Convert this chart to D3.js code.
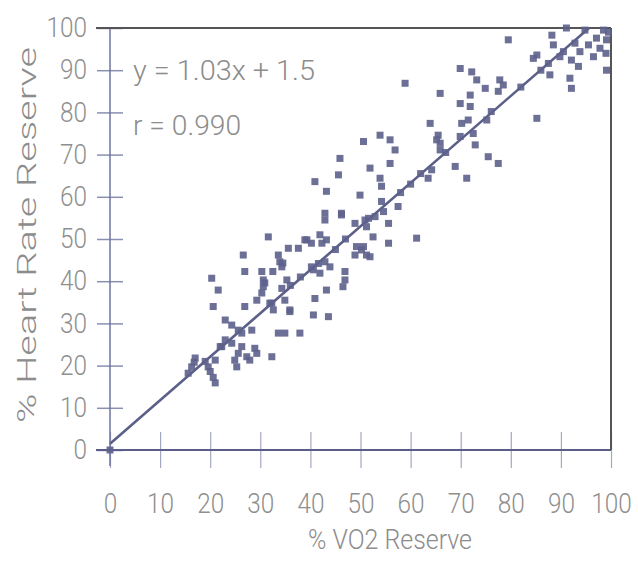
<!DOCTYPE html>
<html lang="en">
<head>
    <meta charset="UTF-8">
    <title>% Heart Rate Reserve vs % VO2 Reserve</title>
    <script src="https://d3js.org/d3.v7.min.js"></script>
    <style>
        body {
            margin: 0;
            background: #ffffff;
        }
        .tick text {
            font-family: Roboto, "Liberation Sans", Arial, sans-serif;
            font-weight: 300;
            font-size: 27px;
            fill: #8f8f8f;
        }
        .label {
            font-family: Roboto, "Liberation Sans", Arial, sans-serif;
            font-weight: 300;
            fill: #8c8c8c;
        }
    </style>
</head>
<body>
<div id="chart"></div>
<script>
    // data
    const vo2 = [0, 15.6, 16.3, 17, 16.8, 19.6, 20, 21, 21, 20.6, 20.3, 21.6, 20.6,
        22.3, 23, 24.3, 23, 24.3, 25.6, 26.3, 28.3, 26.3, 25.6, 24.9, 25.3, 27.3, 27.9, 28.9, 29.3, 32.3,
        26.9, 30.3, 32.5, 34.5, 26.9, 30.3, 30.9, 29.3, 32.3, 34.9, 32.6, 35.9, 33.6, 34.9, 37.9,
        26.6, 31.6, 33.6, 33.9, 34.3, 30.6, 30.6, 35.3, 34.3, 35.6, 37.6, 39.3, 40.2, 41.9, 42.3, 43.2, 38.9,
        40.2, 41.6, 42.9, 43.9, 41.9, 40.6, 46.9, 46.9, 46.5, 43.2, 40.9, 31.9, 35.9, 40.6, 43.6,
        42.9, 42.9, 46.2, 48.9, 50.9, 51.2, 49.2, 50.2, 51.2, 48.9,
        53.9, 50.6, 55.9, 56.9, 55.9, 45.9, 51.9, 45.6, 40.9, 43.2, 53.9, 54.2, 49.9, 54.2, 54.6, 55.6,
        46.2, 51.6, 52.9, 52.5, 55.6, 61.2, 50.6, 51.9, 57.5,
        63.9, 65.2, 64.2, 63.5,
        69.9, 72.2, 73.2, 74.9, 77.8, 78.5, 77.5, 58.9, 65.9, 69.9, 71.9, 71.9, 65.5, 65.9, 65.9,
        70.2, 69.9, 71.5, 72.5, 72.9, 75.2, 76.1, 75.5, 77.5, 68.9, 71.2,
        79.5, 91.1, 88.2, 88.5, 85.2, 84.5, 87.5, 90.5, 92.1, 92.8, 93.8, 95.5, 97.1, 97.8, 98.5, 99.1,
        96.5, 93.5, 99.1, 91.8, 92.1, 85.2, 87.8, 94.8, 89.8, 99.5, 99,
        45, 47, 58, 60, 62, 67, 82, 86, 38, 36, 19, 22];
    const hrr = [0, 18.2, 19.7, 21.8, 20.8, 19.7, 18.6, 21.3, 15.9, 17.2, 40.7, 37.9, 34,
        24.5, 26.1, 25.3, 30.8, 29.6, 28.4, 27.7, 28.4, 24.5, 22.9, 21.3, 19.7, 22.1, 21.3, 24.1, 22.9, 22.1,
        42.3, 42.3, 42.3, 44.3, 34, 37.2, 39.6, 35.5, 34.8, 35.5, 33.2, 32.8, 27.7, 27.7, 27.7,
        46.2, 50.5, 46.2, 44.6, 43.4, 40.3, 38.7, 40.3, 38.3, 47.8, 47.8, 49.8, 49, 51, 49, 49.8, 49.8,
        43.4, 44.2, 44.6, 43.4, 41.9, 42.7, 42.3, 40.3, 38.7, 37.9, 35.9, 34.8, 33.2, 32, 31.6,
        56.1, 54.5, 56.1, 53.7, 54.5, 52.9, 48.2, 47.4, 46.2, 46.2,
        74.6, 73.1, 73.5, 71.1, 67.9, 69.1, 66.8, 65.2, 63.6, 61.3, 64.4, 62.5, 60.4, 58.9, 56.5, 53.7,
        55.7, 54.9, 55.3, 50.5, 49, 50.2, 48.2, 45.8, 57.7,
        77.4, 73.5, 66.4, 64.4,
        90.4, 89.6, 87.7, 85.7, 87.7, 86.5, 85, 86.9, 84.5, 82.1, 84.1, 81.4, 74.6, 72.7, 71.1,
        77.4, 74.3, 78.2, 75, 72.3, 78.2, 80.2, 69.5, 67.9, 67.2, 64.4,
        97.2, 100, 98.3, 96, 93.6, 92.8, 91.6, 94.4, 92.4, 96.4, 94.4, 96, 97.6, 95.2, 99.5, 97.2,
        93.2, 90.9, 90, 88.1, 85.7, 78.6, 88.9, 99.5, 93.2, 99, 94,
        47.5, 50, 61, 63, 65.5, 70.5, 86, 90, 41, 39, 21, 24.5];
    const axisTicks = [0, 10, 20, 30, 40, 50, 60, 70, 80, 90, 100];
    const fit = { slope: 1.03, intercept: 1.5 };
    const fitText = "y = 1.03x + 1.5";
    const rText = "r = 0.990";

    const width = 638, height = 562;
    const mLeft = 110, mRight = 611, mTop = 28, mBottom = 450;

    const svg = d3.select("#chart").append("svg")
        .attr("width", width)
        .attr("height", height);

    const x = d3.scaleLinear().domain([0, 100]).range([mLeft, mRight]);
    const y = d3.scaleLinear().domain([0, 100]).range([mBottom, mTop]);

    // 坐标轴 (narrow digits: squeeze each label to its width in the scan)
    const digitW = 13.5;
    const yAxis = svg.append("g")
        .attr("transform", `translate(${mLeft},0)`)
        .call(d3.axisLeft(y).tickValues(axisTicks).tickSize(13).tickPadding(10));
    yAxis.select(".domain").remove();
    yAxis.selectAll(".tick line").attr("x1", 13).attr("stroke", "#8a8fb0").attr("stroke-width", 1.5);
    yAxis.selectAll(".tick text")
        .attr("textLength", d => String(d).length * digitW)
        .attr("lengthAdjust", "spacingAndGlyphs");

    const xAxis = svg.append("g")
        .attr("transform", `translate(0,${mBottom})`)
        .call(d3.axisBottom(x).tickValues(axisTicks).tickSize(18).tickPadding(26));
    xAxis.select(".domain").remove();
    xAxis.selectAll(".tick line").attr("y1", -18).attr("stroke", "#a4a8c2").attr("stroke-width", 1.2);
    xAxis.selectAll(".tick text")
        .attr("textLength", d => String(d).length * digitW)
        .attr("lengthAdjust", "spacingAndGlyphs");

    // frame
    svg.append("line").attr("x1", mLeft).attr("x2", mLeft).attr("y1", mTop).attr("y2", mBottom + 16)
        .attr("stroke", "#6e73a0").attr("stroke-width", 1.5);
    svg.append("line").attr("x1", mLeft - 14).attr("x2", mRight).attr("y1", mBottom).attr("y2", mBottom)
        .attr("stroke", "#5a5e86").attr("stroke-width", 2);
    svg.append("line").attr("x1", mLeft - 14).attr("x2", mRight).attr("y1", mTop).attr("y2", mTop)
        .attr("stroke", "#555").attr("stroke-width", 2);
    svg.append("line").attr("x1", mRight).attr("x2", mRight).attr("y1", mTop).attr("y2", mBottom)
        .attr("stroke", "#555").attr("stroke-width", 2);

    // regression line, stopped at the top of the plot
    const xEnd = (100 - fit.intercept) / fit.slope;
    svg.append("line")
        .attr("x1", x(0)).attr("y1", y(fit.intercept))
        .attr("x2", x(xEnd)).attr("y2", y(100))
        .attr("stroke", "#5c6089")
        .attr("stroke-width", 2.6);

    // points
    const s = 7;
    svg.append("g")
        .selectAll("rect")
        .data(d3.range(vo2.length))
        .join("rect")
        .attr("x", i => x(vo2[i]) - s / 2)
        .attr("y", i => y(hrr[i]) - s / 2)
        .attr("width", s)
        .attr("height", s)
        .attr("fill", "#5d618b")
        .attr("opacity", 0.9);

    // texts
    svg.append("text").attr("class", "label")
        .attr("x", 133).attr("y", 80)
        .attr("font-size", 27)
        .attr("textLength", 182).attr("lengthAdjust", "spacingAndGlyphs")
        .text(fitText);
    svg.append("text").attr("class", "label")
        .attr("x", 133).attr("y", 135)
        .attr("font-size", 27)
        .attr("textLength", 108).attr("lengthAdjust", "spacingAndGlyphs")
        .text(rText);

    svg.append("text").attr("class", "label")
        .attr("x", 308).attr("y", 549)
        .attr("font-size", 27)
        .attr("textLength", 164).attr("lengthAdjust", "spacingAndGlyphs")
        .text("% VO2 Reserve");

    svg.append("text").attr("class", "label")
        .attr("transform", "translate(36,423) rotate(-90)")
        .attr("font-size", 25)
        .attr("textLength", 376).attr("lengthAdjust", "spacingAndGlyphs")
        .text("% Heart Rate Reserve");
</script>
</body>
</html>
